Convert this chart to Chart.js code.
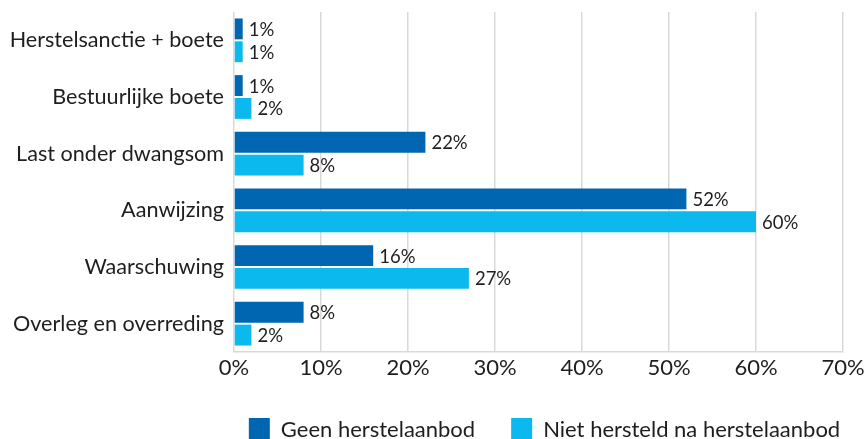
<!DOCTYPE html>
<html>
<head>
<meta charset="utf-8">
<script src="https://cdn.jsdelivr.net/npm/chart.js@4/dist/chart.umd.min.js"></script>
<style>
  html, body { margin: 0; padding: 0; background: #ffffff; overflow: hidden; }
  #wrap { width: 866px; height: 439px; }
</style>
</head>
<body>
<div id="wrap"><canvas id="c" width="866" height="439"></canvas></div>
<script>
// Handhavingsinstrumenten per situatie (percentages)
const categories = [
  'Herstelsanctie + boete',
  'Bestuurlijke boete',
  'Last onder dwangsom',
  'Aanwijzing',
  'Waarschuwing',
  'Overleg en overreding'
];
const geenHerstelaanbod = [1, 1, 22, 52, 16, 8];
const nietHersteldNaAanbod = [1, 2, 8, 60, 27, 2];
const seriesNames = ['Geen herstelaanbod', 'Niet hersteld na herstelaanbod'];
const seriesColors = ['#0066b2', '#0bb9ee'];

const FONT = 'Lato, "Open Sans", sans-serif';
const TEXT = '#1e1e1e';

// Writes the percentage just past the end of every bar
const valueLabels = {
  id: 'valueLabels',
  afterDatasetsDraw(chart) {
    const ctx = chart.ctx;
    ctx.save();
    ctx.font = '18.5px ' + FONT;
    ctx.fillStyle = TEXT;
    ctx.textAlign = 'left';
    ctx.textBaseline = 'middle';
    chart.data.datasets.forEach((ds, di) => {
      const meta = chart.getDatasetMeta(di);
      meta.data.forEach((bar, i) => {
        ctx.fillText(ds.data[i] + '%', bar.x + 6, bar.y + 1);
      });
    });
    ctx.restore();
  }
};

// Legend row under the axis: square swatch followed by the series name
const bottomLegend = {
  id: 'bottomLegend',
  afterDraw(chart) {
    const ctx = chart.ctx;
    const box = 21, gap = 11, between = 36;
    ctx.save();
    ctx.font = '22px ' + FONT;
    ctx.textBaseline = 'middle';
    ctx.textAlign = 'left';
    const items = chart.data.datasets.map(ds => ({
      text: ds.label,
      color: ds.backgroundColor,
      w: ctx.measureText(ds.label).width
    }));
    const total = items.reduce((s, it) => s + box + gap + it.w, 0) + between * (items.length - 1);
    const area = chart.chartArea;
    let x = (area.left + area.right) / 2 + 6 - total / 2;
    const top = chart.height - 21;
    items.forEach(it => {
      ctx.fillStyle = it.color;
      ctx.fillRect(x, top, box, box);
      x += box + gap;
      ctx.fillStyle = TEXT;
      ctx.fillText(it.text, x, top + box / 2 + 1);
      x += it.w + between;
    });
    ctx.restore();
  }
};

new Chart(document.getElementById('c'), {
  type: 'bar',
  data: {
    labels: categories,
    datasets: [
      {
        label: seriesNames[0],
        data: geenHerstelaanbod,
        backgroundColor: seriesColors[0],
        borderWidth: 0
      },
      {
        label: seriesNames[1],
        data: nietHersteldNaAanbod,
        backgroundColor: seriesColors[1],
        borderWidth: 0
      }
    ]
  },
  options: {
    indexAxis: 'y',
    responsive: false,
    animation: false,
    devicePixelRatio: 1,
    categoryPercentage: 0.807,
    barPercentage: 0.913,
    layout: { padding: { top: 12, right: 0, left: 0, bottom: 41 } },
    scales: {
      x: {
        min: 0,
        max: 70,
        ticks: {
          stepSize: 10,
          callback: v => v + '%',
          color: TEXT,
          font: { family: FONT, size: 22 },
          padding: 3
        },
        grid: { color: '#d9d9d9', lineWidth: 1.5, drawTicks: false },
        border: { display: true, color: '#d9d9d9', width: 1.5 },
        afterFit(scale) {
          scale.height = 46;
          scale.paddingRight = 23;
        }
      },
      y: {
        ticks: {
          color: TEXT,
          font: { family: FONT, size: 21.6 },
          padding: 10
        },
        grid: { display: false, drawTicks: false },
        border: { display: false },
        afterFit(scale) {
          scale.width = 234;
          scale.paddingTop = 0;
          scale.paddingBottom = 0;
        }
      }
    },
    plugins: {
      legend: { display: false },
      tooltip: { enabled: false }
    }
  },
  plugins: [valueLabels, bottomLegend]
});
</script>
</body>
</html>
